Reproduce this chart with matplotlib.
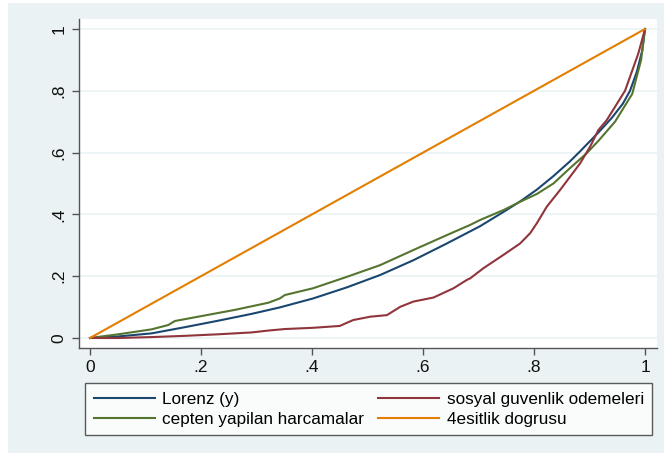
import matplotlib
matplotlib.use("Agg")
import matplotlib.pyplot as plt
from matplotlib.patches import Rectangle

plt.rcParams['font.family'] = ['Liberation Sans', 'DejaVu Sans']

# Lorenz (y)
lorenz_x = [0, .051, .111, .171, .231, .291, .342, .402, .463, .523, .583, .643, .703,
            .745, .775, .805, .835, .865, .883, .916, .94, .96, .973, .985, .995, 1]
lorenz_y = [0, .005, .015, .035, .056, .078, .099, .128, .164, .204, .252, .306, .362,
            .408, .442, .48, .524, .572, .604, .665, .712, .758, .80, .86, .93, 1.0]

# sosyal guvenlik odemeleri
sosyal_x = [0, .051, .111, .171, .231, .291, .321, .351, .402, .45, .474, .505, .535,
            .559, .583, .619, .655, .679, .685, .709, .745, .775, .793, .805, .823,
            .847, .865, .883, .901, .916, .931, .964, .988, 1]
sosyal_y = [0, 0, .003, .007, .012, .018, .024, .029, .033, .039, .058, .069, .074,
            .101, .118, .131, .161, .188, .193, .226, .269, .306, .339, .371, .425,
            .479, .522, .565, .619, .673, .705, .80, .921, 1]

# cepten yapilan harcamalar
cepten_x = [0, .051, .111, .141, .153, .201, .261, .321, .342, .351, .402, .463, .523,
            .583, .643, .685, .703, .745, .775, .805, .835, .865, .895, .916, .946,
            .977, .993, 1]
cepten_y = [0, .012, .028, .042, .055, .071, .091, .114, .128, .139, .161, .198, .236,
            .285, .333, .366, .382, .414, .441, .466, .50, .55, .598, .638, .70,
            .79, .90, 1]

# 4esitlik dogrusu
esitlik_x = [0, 1]
esitlik_y = [0, 1]

ticks = [0, .2, .4, .6, .8, 1]
tick_labels = ["0", ".2", ".4", ".6", ".8", "1"]

W, H = 664, 453
fig = plt.figure(figsize=(W / 100, H / 100), dpi=100, facecolor="white")
fig.patches.append(Rectangle((8 / W, 0), 1, 1 - 3 / H, transform=fig.transFigure,
                             facecolor="#eaf2f3", edgecolor="none", zorder=-10))

ax = fig.add_axes([79 / W, 1 - 348 / H, (657 - 79) / W, (348 - 19) / H])
ax.set_facecolor("white")
ax.set_xlim(-11 / 555, 1 + 12 / 555)
ax.set_ylim(-10 / 309, 1 + 10 / 309)

ax.set_yticks(ticks)
ax.set_yticklabels(tick_labels, rotation=90, va="center")
ax.set_xticks(ticks)
ax.set_xticklabels(tick_labels)
ax.grid(axis="y", color="#eaf2f3", linewidth=1.2)
ax.set_axisbelow(True)

for s in ["top", "right"]:
    ax.spines[s].set_visible(False)
for s in ["left", "bottom"]:
    ax.spines[s].set_color("#555555")
    ax.spines[s].set_linewidth(1.0)
ax.tick_params(length=5, width=1, color="#555555", labelsize=12.5, pad=4,
               labelcolor="#111111")

l1, = ax.plot(lorenz_x, lorenz_y, color="#1a476f", lw=1.5, label="Lorenz (y)")
l2, = ax.plot(cepten_x, cepten_y, color="#55752f", lw=1.5, label="cepten yapilan harcamalar")
l3, = ax.plot(sosyal_x, sosyal_y, color="#90353b", lw=1.5, label="sosyal guvenlik odemeleri")
l4, = ax.plot(esitlik_x, esitlik_y, color="#e37e00", lw=1.5, label="4esitlik dogrusu")

leg = fig.legend(handles=[l1, l2, l3, l4], ncol=2, loc="upper left",
                 bbox_to_anchor=(85 / W, 1 - 383 / H), borderaxespad=0,
                 fontsize=12.3, handlelength=3.6, handletextpad=0.42,
                 columnspacing=0.8, labelspacing=0.3, borderpad=0.5,
                 fancybox=False, frameon=True)
leg.get_frame().set_edgecolor("#333333")
leg.get_frame().set_linewidth(1.0)

fig.savefig("out.png", dpi=100, facecolor=fig.get_facecolor())
